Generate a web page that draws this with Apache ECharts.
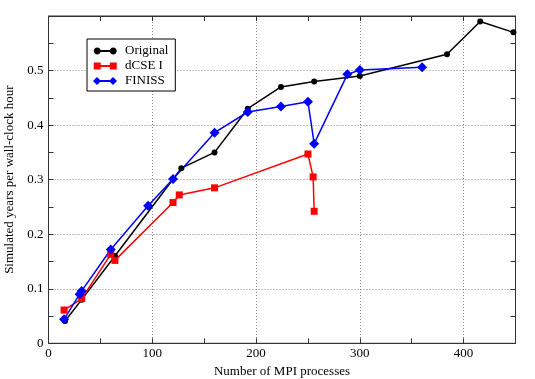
<!DOCTYPE html>
<html>
<head>
<meta charset="utf-8">
<script src="https://cdn.jsdelivr.net/npm/echarts@6/dist/echarts.min.js"></script>
<style>html,body{margin:0;padding:0;background:#fff}#c{width:535px;height:379px}</style>
</head>
<body>
<div id="c"></div>
<script>
// Data (x = number of MPI processes, y = simulated years per wall-clock hour)
var originalX = [16, 32, 64, 128, 160, 192, 224, 256, 300, 384, 416, 448];
var originalY = [0.041, 0.080, 0.160, 0.321, 0.350, 0.430, 0.470, 0.480, 0.490, 0.530, 0.590, 0.570];
var dcseX = [15, 32, 60, 64, 120, 126, 160, 250, 255, 256];
var dcseY = [0.061, 0.082, 0.163, 0.152, 0.258, 0.272, 0.285, 0.347, 0.305, 0.242];
var finissX = [15, 30, 32, 60, 96, 120, 160, 192, 224, 250, 256, 288, 300, 360];
var finissY = [0.044, 0.090, 0.096, 0.172, 0.252, 0.301, 0.386, 0.424, 0.434, 0.443, 0.366, 0.493, 0.501, 0.506];
var seriesNames = ['Original', 'dCSE I', 'FINISS'];
var xTicks = [0, 100, 200, 300, 400];
var yTicks = [0, 0.1, 0.2, 0.3, 0.4, 0.5];

function pairs(xs, ys) { return xs.map(function (x, i) { return [x, ys[i]]; }); }

var FONT = '"Liberation Serif", "DejaVu Serif", serif';
var AXC = '#333';
var chart = echarts.init(document.getElementById('c'), null, {renderer: 'canvas'});

// legend icon: polygon circle at both ends of a short line
function polyCircle(cx, cy, r) {
  var s = '';
  for (var k = 0; k < 16; k++) {
    var a = k / 16 * Math.PI * 2;
    s += (k === 0 ? 'M' : 'L') + (cx + r * Math.cos(a)).toFixed(2) + ',' + (cy + r * Math.sin(a)).toFixed(2);
  }
  return s + 'Z ';
}
var iconCircle = 'path://' + polyCircle(4, 4, 3.5) + 'M6,3L18,3L18,5L6,5Z ' + polyCircle(20, 4, 3.5) + 'M0,0L0.01,0L0.01,8L0,8Z';
var iconSquare = 'path://M0.5,0.5L7.5,0.5L7.5,7.5L0.5,7.5Z M7,3L17,3L17,5L7,5Z M16.5,0.5L23.5,0.5L23.5,7.5L16.5,7.5Z M0,0L0.01,0L0.01,8L0,8Z';
var iconDiamond = 'path://M0,4L4,0L8,4L4,8Z M7,3L17,3L17,5L7,5Z M16,4L20,0L24,4L20,8Z';

var baseX = {
  type: 'value', min: 0, max: 450, interval: 50,
  axisLine: {show: true, onZero: false, lineStyle: {color: AXC, width: 1}},
  axisTick: {show: true, inside: true, length: 5, lineStyle: {color: AXC}},
  splitLine: {show: false}
};
var baseY = {
  type: 'value', min: 0, max: 0.6, interval: 0.05,
  axisLine: {show: true, onZero: false, lineStyle: {color: AXC, width: 1}},
  axisTick: {show: true, inside: true, length: 5, lineStyle: {color: AXC}},
  splitLine: {show: false}
};

function isTick(v, list) {
  for (var i = 0; i < list.length; i++) if (Math.abs(v - list[i]) < 1e-6) return true;
  return false;
}

var option = {
  animation: false,
  backgroundColor: '#fff',
  grid: {left: 48.5, right: 19.5, top: 16, bottom: 35.7, containLabel: false,
         outerBoundsMode: 'none',
         show: true, borderColor: AXC, borderWidth: 1, backgroundColor: 'transparent'},
  legend: {
    orient: 'vertical', left: 87, top: 39,
    padding: [5, 7, 3, 6], itemGap: 1,
    itemWidth: 24, itemHeight: 8,
    borderColor: '#000', borderWidth: 1, backgroundColor: '#fff',
    textStyle: {fontFamily: FONT, fontSize: 13, color: '#000', lineHeight: 14, padding: [0, 0, 0, 3]},
    data: [
      {name: seriesNames[0], icon: iconCircle},
      {name: seriesNames[1], icon: iconSquare},
      {name: seriesNames[2], icon: iconDiamond}
    ]
  },
  xAxis: [
    Object.assign({}, baseX, {
      position: 'bottom',
      name: 'Number of MPI processes', nameLocation: 'middle', nameGap: 20,
      nameTextStyle: {fontFamily: FONT, fontSize: 13, color: '#000'},
      axisLabel: {
        fontFamily: FONT, fontSize: 13, color: '#000', margin: 4,
        formatter: function (v) { return isTick(v, xTicks) ? String(v) : ''; }
      }
    }),
    Object.assign({}, baseX, {position: 'top', axisLabel: {show: false}}),
    {
      type: 'value', min: 0, max: 450, interval: 100, position: 'bottom',
      axisLine: {show: false}, axisTick: {show: false}, axisLabel: {show: false},
      splitLine: {show: true, lineStyle: {color: '#888', type: [1, 2], width: 1}}
    }
  ],
  yAxis: [
    Object.assign({}, baseY, {
      position: 'left',
      name: 'Simulated years per wall-clock hour', nameLocation: 'middle', nameGap: 24,
      nameTextStyle: {fontFamily: FONT, fontSize: 13, color: '#000'},
      axisLabel: {
        fontFamily: FONT, fontSize: 13, color: '#000', margin: 5,
        formatter: function (v) { return isTick(v, yTicks) ? (v === 0 ? '0' : v.toFixed(1)) : ''; }
      }
    }),
    Object.assign({}, baseY, {position: 'right', axisLabel: {show: false}}),
    {
      type: 'value', min: 0, max: 0.6, interval: 0.1, position: 'left',
      axisLine: {show: false}, axisTick: {show: false}, axisLabel: {show: false},
      splitLine: {show: true, lineStyle: {color: '#888', type: [1, 2], width: 1}}
    }
  ],
  series: [
    {
      name: seriesNames[0], type: 'line', xAxisIndex: 0, yAxisIndex: 0,
      data: pairs(originalX, originalY),
      symbol: 'circle', symbolSize: 6, showAllSymbol: true,
      lineStyle: {color: '#000', width: 1.5}, itemStyle: {color: '#000'}
    },
    {
      name: seriesNames[1], type: 'line', xAxisIndex: 0, yAxisIndex: 0,
      data: pairs(dcseX, dcseY),
      symbol: 'rect', symbolSize: 7, showAllSymbol: true,
      lineStyle: {color: '#ff0000', width: 1.5}, itemStyle: {color: '#ff0000'}
    },
    {
      name: seriesNames[2], type: 'line', xAxisIndex: 0, yAxisIndex: 0,
      data: pairs(finissX, finissY),
      symbol: 'diamond', symbolSize: 10, showAllSymbol: true,
      lineStyle: {color: '#0000ff', width: 1.5}, itemStyle: {color: '#0000ff'}
    }
  ]
};
chart.setOption(option);
</script>
</body>
</html>
